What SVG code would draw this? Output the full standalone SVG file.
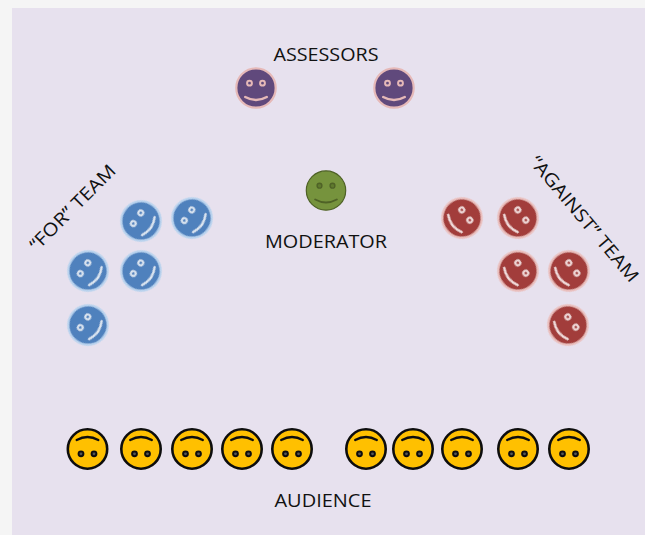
<svg xmlns="http://www.w3.org/2000/svg" width="645" height="535" viewBox="0 0 645 535">
<style>
text{font-family:"Open Sans","Liberation Sans",sans-serif;font-size:18px;fill:#111}
.face{fill:var(--f);stroke:var(--h);stroke-width:var(--hw)}
.e{fill:var(--ef);stroke:var(--l);stroke-width:var(--ew)}
.m{fill:none;stroke:var(--l);stroke-width:var(--lw);stroke-linecap:round}
.purple{--f:#604a7b;--h:#e6b9b8;--hw:2.2;--ef:#604a7b;--l:#e6b9b8;--lw:2.5;--ew:2}
.blue{--f:#4f81bd;--h:#b9d3ee;--hw:2.2;--ef:#4f81bd;--l:#dce6f1;--lw:2.5;--ew:2}
.red{--f:#a23d3b;--h:#eabfbd;--hw:2.2;--ef:#a23d3b;--l:#f2dcdb;--lw:2.5;--ew:2}
.green{--f:#76933c;--h:#4f6228;--hw:1.2;--ef:#5f7a2e;--l:#4f6228;--lw:2;--ew:1.4}
.yellow{--f:#ffc000;--h:#111;--hw:2.6;--ef:#555;--l:#111;--lw:2.4;--ew:2}
</style>
<defs>
<filter id="soft" x="-10%" y="-10%" width="120%" height="120%"><feGaussianBlur stdDeviation="0.4"/></filter>
<g id="s" filter="url(#soft)">
<circle class="face" r="19.700"/>
<circle class="e" cx="-6.500" cy="-4.800" r="2.400"/>
<circle class="e" cx="6.500" cy="-4.800" r="2.400"/>
<path class="m" d="M-10.800 9Q0 15 10.800 9"/>
</g>
</defs>
<rect width="645" height="535" fill="#f5f5f5"/>
<rect x="12" y="8" width="633" height="527" fill="#e7e1ee"/>
<g id="connectors"/>
<g id="assessors" class="purple">
<use href="#s" transform="translate(256 88)"/>
<use href="#s" transform="translate(394 88)"/>
<text x="326" y="61" text-anchor="middle" textLength="105" lengthAdjust="spacingAndGlyphs">ASSESSORS</text>
</g>
<g id="moderator" class="green">
<use href="#s" transform="translate(326 190.500)"/>
<text x="326" y="248" text-anchor="middle" textLength="122" lengthAdjust="spacingAndGlyphs">MODERATOR</text>
</g>
<g id="for-team" class="blue">
<use href="#s" transform="translate(141 221) rotate(-55)"/>
<use href="#s" transform="translate(192 218) rotate(-55)"/>
<use href="#s" transform="translate(88 271) rotate(-55)"/>
<use href="#s" transform="translate(141 271) rotate(-55)"/>
<use href="#s" transform="translate(88 325) rotate(-55)"/>
<text transform="translate(77 212) rotate(-45)" text-anchor="middle" textLength="113" lengthAdjust="spacingAndGlyphs">“FOR” TEAM</text>
</g>
<g id="against-team" class="red">
<use href="#s" transform="translate(462 218) rotate(52)"/>
<use href="#s" transform="translate(518 218) rotate(52)"/>
<use href="#s" transform="translate(518 271) rotate(52)"/>
<use href="#s" transform="translate(569 271) rotate(52)"/>
<use href="#s" transform="translate(568 325) rotate(52)"/>
<text transform="translate(579.500 223) rotate(50)" text-anchor="middle" textLength="158" lengthAdjust="spacingAndGlyphs">“AGAINST” TEAM</text>
</g>
<g id="audience" class="yellow">
<use href="#s" transform="translate(87.500 449) rotate(180)"/>
<use href="#s" transform="translate(141 449) rotate(180)"/>
<use href="#s" transform="translate(192 449) rotate(180)"/>
<use href="#s" transform="translate(242 449) rotate(180)"/>
<use href="#s" transform="translate(292 449) rotate(180)"/>
<use href="#s" transform="translate(366 449) rotate(180)"/>
<use href="#s" transform="translate(413 449) rotate(180)"/>
<use href="#s" transform="translate(462 449) rotate(180)"/>
<use href="#s" transform="translate(518 449) rotate(180)"/>
<use href="#s" transform="translate(569 449) rotate(180)"/>
<text x="323" y="507" text-anchor="middle" textLength="97" lengthAdjust="spacingAndGlyphs">AUDIENCE</text>
</g>
</svg>
